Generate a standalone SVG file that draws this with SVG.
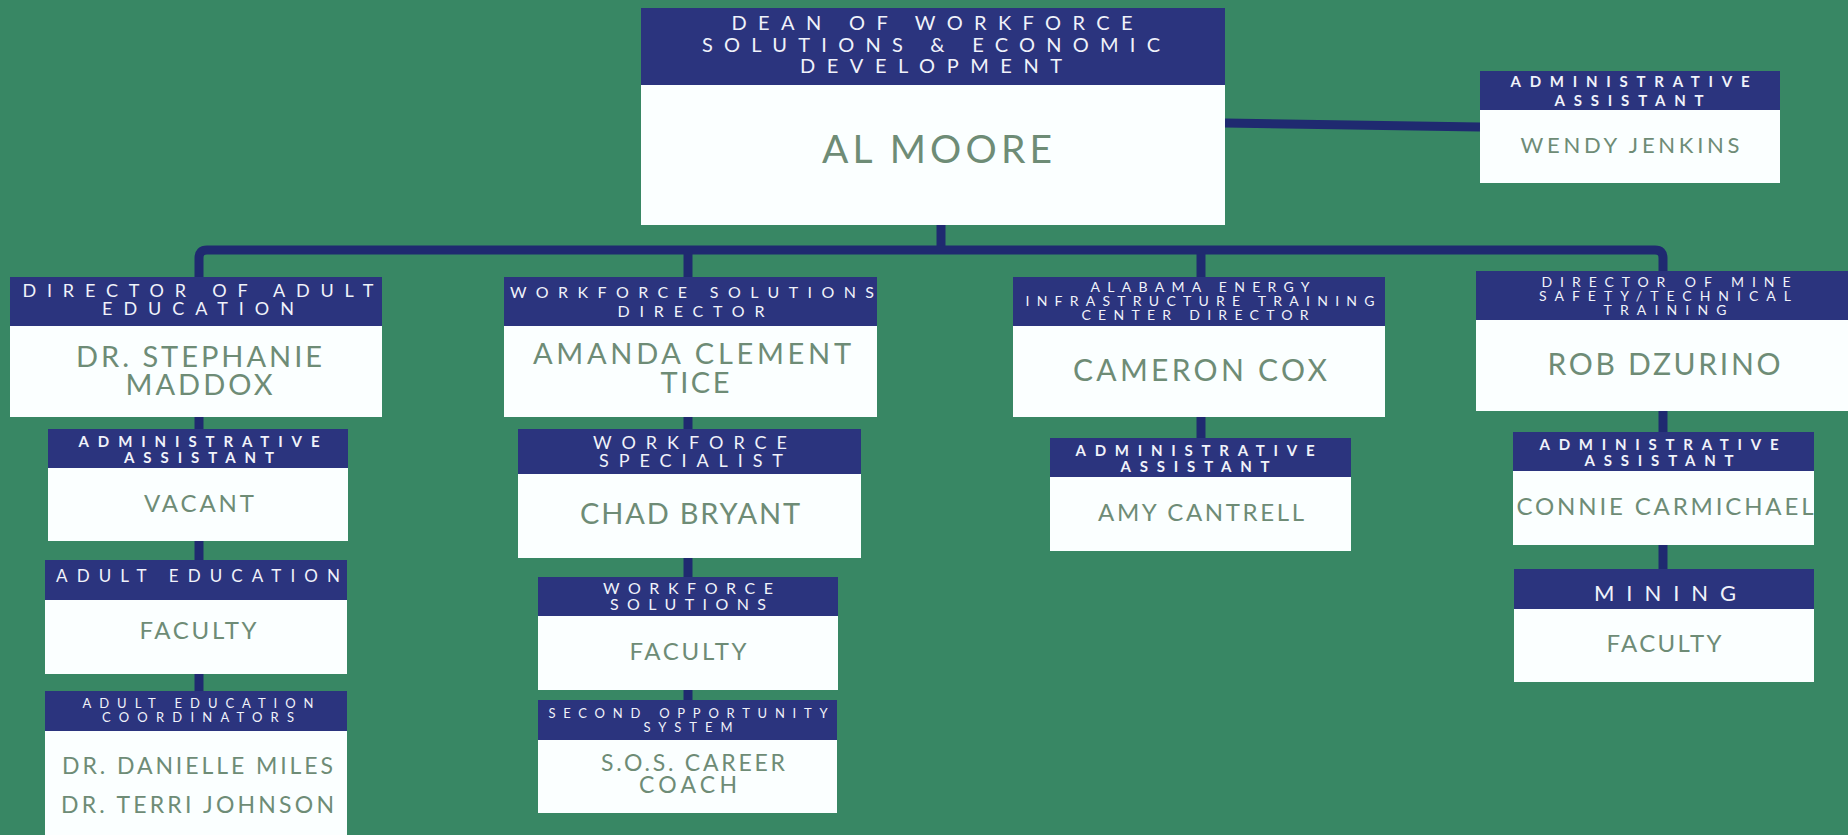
<svg xmlns="http://www.w3.org/2000/svg" width="1848" height="835" viewBox="0 0 1848 835">
<style>
.bg{fill:#388764}
.hd{fill:#2b347e}
.bd{fill:#fbffff}
.ht{font-family:Lato,"Liberation Sans",sans-serif;fill:#f0f2fa;text-anchor:middle;font-weight:400}
.hb{font-weight:700}
.nm{font-family:Lato,"Liberation Sans",sans-serif;fill:#6e8c76;text-anchor:middle;font-weight:400}
.cn{fill:none;stroke:#1f2a70;stroke-width:9;stroke-linecap:butt;stroke-linejoin:round}
</style>
<rect class="bg" x="0" y="0" width="1848" height="835"/>
<g id="connectors">
<path class="cn" d="M941,225 V250"/>
<path class="cn" d="M199,277 V258 Q199,250 207,250 H1655 Q1663,250 1663,258 V271"/>
<path class="cn" d="M688,250 V277"/>
<path class="cn" d="M1201,250 V277"/>
<path class="cn" d="M1225,123 L1480,127"/>
<path class="cn" d="M199,417 V429"/>
<path class="cn" d="M199,541 V560"/>
<path class="cn" d="M199,674 V691"/>
<path class="cn" d="M688,417 V429"/>
<path class="cn" d="M688,557 V577"/>
<path class="cn" d="M688,690 V700"/>
<path class="cn" d="M1201,417 V438"/>
<path class="cn" d="M1663,411 V432"/>
<path class="cn" d="M1663,545 V569"/>
</g>
<g id="dean">
<rect class="bd" x="641" y="8" width="584" height="217"/>
<rect class="hd" x="641" y="8" width="584" height="77"/>
<text class="ht" font-size="20" x="932" y="30" textLength="401" lengthAdjust="spacing">DEAN OF WORKFORCE</text>
<text class="ht" font-size="20" x="931" y="52" textLength="458" lengthAdjust="spacing">SOLUTIONS &amp; ECONOMIC</text>
<text class="ht" font-size="20" x="931" y="73" textLength="262" lengthAdjust="spacing">DEVELOPMENT</text>
<text class="nm" font-size="39" x="937" y="163" textLength="230" lengthAdjust="spacing">AL MOORE</text>
</g>
<g id="wendy">
<rect class="bd" x="1480" y="71" width="300" height="112"/>
<rect class="hd" x="1480" y="71" width="300" height="39"/>
<text class="ht hb" font-size="15" x="1630" y="87" textLength="239" lengthAdjust="spacing">ADMINISTRATIVE</text>
<text class="ht hb" font-size="15" x="1629" y="106" textLength="149" lengthAdjust="spacing">ASSISTANT</text>
<text class="nm" font-size="22" x="1630" y="153" textLength="219" lengthAdjust="spacing">WENDY JENKINS</text>
</g>
<g id="stephanie">
<rect class="bd" x="10" y="277" width="372" height="140"/>
<rect class="hd" x="10" y="277" width="372" height="49"/>
<text class="ht" font-size="18" x="198" y="297" textLength="351" lengthAdjust="spacing">DIRECTOR OF ADULT</text>
<text class="ht" font-size="18" x="198" y="315" textLength="192" lengthAdjust="spacing">EDUCATION</text>
<text class="nm" font-size="29" x="199" y="367" textLength="246" lengthAdjust="spacing">DR. STEPHANIE</text>
<text class="nm" font-size="29" x="199" y="395" textLength="147" lengthAdjust="spacing">MADDOX</text>
</g>
<g id="amanda">
<rect class="bd" x="504" y="277" width="373" height="140"/>
<rect class="hd" x="504" y="277" width="373" height="49"/>
<text class="ht" font-size="16" x="692" y="298" textLength="364" lengthAdjust="spacing">WORKFORCE SOLUTIONS</text>
<text class="ht" font-size="16" x="691" y="317" textLength="147" lengthAdjust="spacing">DIRECTOR</text>
<text class="nm" font-size="29" x="692" y="364" textLength="318" lengthAdjust="spacing">AMANDA CLEMENT</text>
<text class="nm" font-size="29" x="695" y="393" textLength="69" lengthAdjust="spacing">TICE</text>
</g>
<g id="cameron">
<rect class="bd" x="1013" y="277" width="372" height="140"/>
<rect class="hd" x="1013" y="277" width="372" height="49"/>
<text class="ht" font-size="14" x="1200" y="292" textLength="219" lengthAdjust="spacing">ALABAMA ENERGY</text>
<text class="ht" font-size="14" x="1200" y="306" textLength="349" lengthAdjust="spacing">INFRASTRUCTURE TRAINING</text>
<text class="ht" font-size="14" x="1195" y="320" textLength="227" lengthAdjust="spacing">CENTER DIRECTOR</text>
<text class="nm" font-size="30" x="1200" y="381" textLength="254" lengthAdjust="spacing">CAMERON COX</text>
</g>
<g id="rob">
<rect class="bd" x="1476" y="271" width="380" height="140"/>
<rect class="hd" x="1476" y="271" width="380" height="49"/>
<text class="ht" font-size="14" x="1666" y="287" textLength="249" lengthAdjust="spacing">DIRECTOR OF MINE</text>
<text class="ht" font-size="14" x="1665" y="301" textLength="252" lengthAdjust="spacing">SAFETY/TECHNICAL</text>
<text class="ht" font-size="14" x="1665" y="315" textLength="123" lengthAdjust="spacing">TRAINING</text>
<text class="nm" font-size="30" x="1664" y="375" textLength="233" lengthAdjust="spacing">ROB DZURINO</text>
</g>
<g id="vacant">
<rect class="bd" x="48" y="429" width="300" height="112"/>
<rect class="hd" x="48" y="429" width="300" height="39"/>
<text class="ht hb" font-size="15" x="199" y="447" textLength="241" lengthAdjust="spacing">ADMINISTRATIVE</text>
<text class="ht hb" font-size="15" x="199" y="463" textLength="150" lengthAdjust="spacing">ASSISTANT</text>
<text class="nm" font-size="24" x="199" y="512" textLength="110" lengthAdjust="spacing">VACANT</text>
</g>
<g id="ae-faculty">
<rect class="bd" x="45" y="560" width="302" height="114"/>
<rect class="hd" x="45" y="560" width="302" height="40"/>
<text class="ht" font-size="17" x="198" y="582" textLength="284" lengthAdjust="spacing">ADULT EDUCATION</text>
<text class="nm" font-size="24" x="198" y="639" textLength="117" lengthAdjust="spacing">FACULTY</text>
</g>
<g id="ae-coordinators">
<rect class="bd" x="45" y="691" width="302" height="150"/>
<rect class="hd" x="45" y="691" width="302" height="40"/>
<text class="ht" font-size="13" x="198" y="708" textLength="231" lengthAdjust="spacing">ADULT EDUCATION</text>
<text class="ht" font-size="13" x="198" y="722" textLength="192" lengthAdjust="spacing">COORDINATORS</text>
<text class="nm" font-size="23" x="197.5" y="774" textLength="271" lengthAdjust="spacing">DR. DANIELLE MILES</text>
<text class="nm" font-size="23" x="197.5" y="813" textLength="273" lengthAdjust="spacing">DR. TERRI JOHNSON</text>
</g>
<g id="chad">
<rect class="bd" x="518" y="429" width="343" height="129"/>
<rect class="hd" x="518" y="429" width="343" height="45"/>
<text class="ht" font-size="18" x="690" y="449" textLength="194" lengthAdjust="spacing">WORKFORCE</text>
<text class="ht" font-size="18" x="691" y="467" textLength="184" lengthAdjust="spacing">SPECIALIST</text>
<text class="nm" font-size="29" x="690" y="524" textLength="220" lengthAdjust="spacing">CHAD BRYANT</text>
</g>
<g id="wf-faculty">
<rect class="bd" x="538" y="577" width="300" height="113"/>
<rect class="hd" x="538" y="577" width="300" height="39"/>
<text class="ht" font-size="16" x="688" y="594" textLength="170" lengthAdjust="spacing">WORKFORCE</text>
<text class="ht" font-size="16" x="688" y="610" textLength="156" lengthAdjust="spacing">SOLUTIONS</text>
<text class="nm" font-size="24" x="688" y="660" textLength="117" lengthAdjust="spacing">FACULTY</text>
</g>
<g id="sos">
<rect class="bd" x="538" y="700" width="299" height="113"/>
<rect class="hd" x="538" y="700" width="299" height="40"/>
<text class="ht" font-size="13" x="688" y="718" textLength="279" lengthAdjust="spacing">SECOND OPPORTUNITY</text>
<text class="ht" font-size="13" x="688" y="732" textLength="89" lengthAdjust="spacing">SYSTEM</text>
<text class="nm" font-size="23" x="693" y="771" textLength="184" lengthAdjust="spacing">S.O.S. CAREER</text>
<text class="nm" font-size="23" x="688" y="793" textLength="98" lengthAdjust="spacing">COACH</text>
</g>
<g id="amy">
<rect class="bd" x="1050" y="438" width="301" height="113"/>
<rect class="hd" x="1050" y="438" width="301" height="39"/>
<text class="ht hb" font-size="15" x="1195" y="456" textLength="239" lengthAdjust="spacing">ADMINISTRATIVE</text>
<text class="ht hb" font-size="15" x="1195" y="472" textLength="149" lengthAdjust="spacing">ASSISTANT</text>
<text class="nm" font-size="24" x="1201" y="521" textLength="206" lengthAdjust="spacing">AMY CANTRELL</text>
</g>
<g id="connie">
<rect class="bd" x="1513" y="432" width="301" height="113"/>
<rect class="hd" x="1513" y="432" width="301" height="39"/>
<text class="ht hb" font-size="15" x="1659" y="450" textLength="239" lengthAdjust="spacing">ADMINISTRATIVE</text>
<text class="ht hb" font-size="15" x="1659" y="466" textLength="149" lengthAdjust="spacing">ASSISTANT</text>
<text class="nm" font-size="24" x="1665" y="515" textLength="297" lengthAdjust="spacing">CONNIE CARMICHAEL</text>
</g>
<g id="mining">
<rect class="bd" x="1514" y="569" width="300" height="113"/>
<rect class="hd" x="1514" y="569" width="300" height="40"/>
<text class="ht" font-size="22" x="1665" y="601" textLength="142" lengthAdjust="spacing">MINING</text>
<text class="nm" font-size="24" x="1664" y="652" textLength="115" lengthAdjust="spacing">FACULTY</text>
</g>
</svg>
